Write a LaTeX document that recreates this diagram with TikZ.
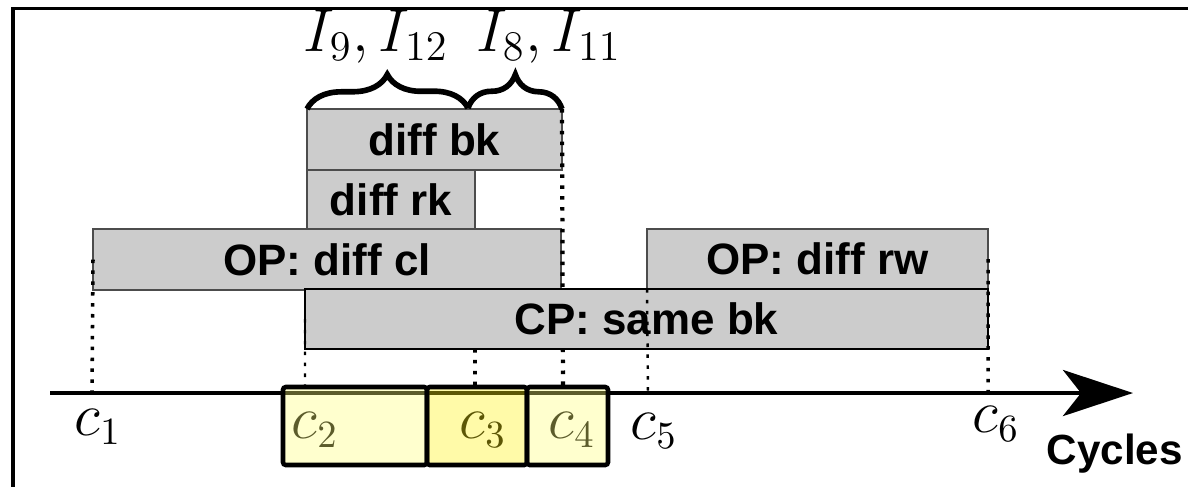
\documentclass[tikz,border=0pt]{standalone}
\usepackage{fontspec}
\setsansfont{Liberation Sans}
\usetikzlibrary{arrows.meta,positioning,decorations.pathreplacing}
\definecolor{boxgray}{HTML}{CCCCCC}
\definecolor{winlight}{RGB}{255,255,120}
\definecolor{windark}{RGB}{255,240,15}
\tikzset{
  gbox/.style={rectangle,draw=black!70,line width=0.4pt,fill=boxgray,inner sep=0pt,outer sep=0pt,font=\sffamily\bfseries\fontsize{12.5}{14}\selectfont},
  cpbox/.style={gbox,draw=black,line width=0.8pt},
  guide/.style={line width=1pt,dash pattern=on 1pt off 2.1pt},
  tl/.style={-{Stealth[length=7mm,width=4.6mm,inset=1.8mm]},line width=1.4pt},
  tick/.style={inner sep=1pt,font=\fontsize{16}{19}\selectfont},
  win/.style={rectangle,draw=black,line width=1.3pt,rounded corners=0.8pt,minimum height=7.8mm,inner sep=0pt,fill opacity=0.36},
  brc/.style={decorate,decoration={brace,amplitude=3.4mm},line width=1.6pt},
  ilab/.style={inner sep=1pt,font=\fontsize{17.5}{20}\selectfont}
}

\begin{document}
\begin{tikzpicture}[x=0.1mm,y=-0.1mm]
\useasboundingbox (0,0) rectangle (1188,486);
% frame edge
\draw[line width=1.1pt] (1200,8.5) -- (13,8.5) -- (13,500);
% points on the time line
\coordinate (ax0) at (50,393);
\coordinate (ax1) at (1133,393);
\coordinate (t1) at (92,393);
\coordinate (t2) at (305,393);
\coordinate (t3) at (475,393);
\coordinate (t4) at (563,393);
\coordinate (t5) at (648,393);
\coordinate (t6) at (988,393);
% request boxes
\node[gbox,minimum width=25.5mm,minimum height=6.1mm] (bk) at (434.5,139.5) {diff bk};
\node[gbox,minimum width=16.8mm,minimum height=5.9mm] (rk) at (391,199.5) {diff rk};
\node[gbox,minimum width=46.8mm,minimum height=6.1mm] (cl) at (327,259.5) {OP: diff cl};
\node[gbox,minimum width=34.1mm,minimum height=6mm] (rw) at (817.5,259) {OP: diff rw};
\draw[guide,line width=1.2pt] (bk.north east) -- (t4);
\node[cpbox,minimum width=68.3mm,minimum height=6mm] (cp) at (646.5,319) {CP: same bk};
% dotted drops to the time line
\draw[guide] (cl.west) -- (t1);
\draw[guide,line width=0.7pt] (cp.west) -- (t2);
\draw[guide] (rk.east |- cp.south) -- (t3);
\draw[guide,line width=0.7pt] (rw.south west) -- (t5);
\draw[guide] (rw.east) -- (t6);
% time line
\draw[tl] (ax0) -- (ax1);
\node[tick] (c1) at (98,427) {$c_1$};
\node[tick] (c2) at (315,430) {$c_2$};
\node[tick] (c3) at (483,430) {$c_3$};
\node[tick] (c4) at (572,430) {$c_4$};
\node[tick] (c5) at (654,431) {$c_5$};
\node[tick] (c6) at (996,424) {$c_6$};
% windows
\node[win,minimum width=14.4mm,fill=winlight] (w2) at (355,426) {};
\node[win,minimum width=10mm,fill=windark] (w3) at (477,426) {};
\node[win,minimum width=8.1mm,fill=winlight] (w4) at (567.5,426) {};
% braces
\coordinate (split) at (468,108);
\draw[brc] (bk.north west) -- (split);
\draw[brc] (split) -- (bk.north east);
\node[ilab] (i1) at (376,37) {$I_9, I_{12}$};
\node[ilab] (i2) at (549,37) {$I_8, I_{11}$};
\node[anchor=west,inner sep=0pt,font=\sffamily\bfseries\fontsize{12}{14}\selectfont] (cyc) at (1046,454) {Cycles};
\end{tikzpicture}
\end{document}
